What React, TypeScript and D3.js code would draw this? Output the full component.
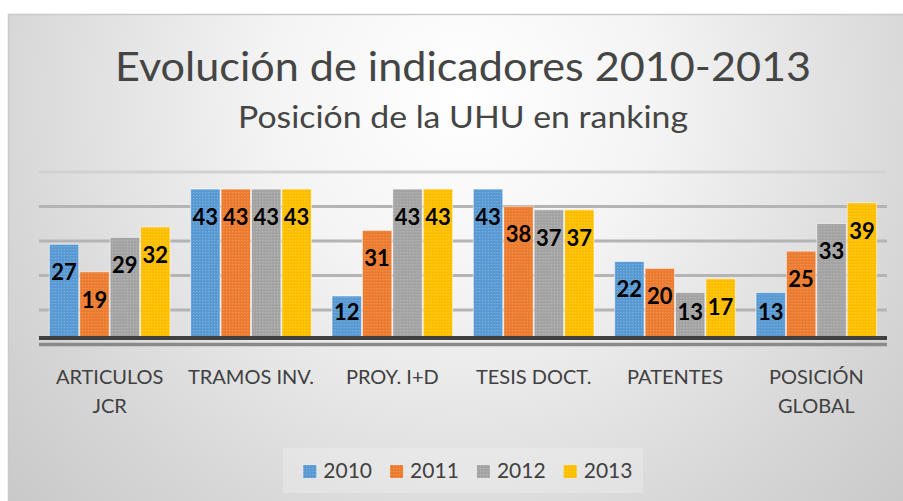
import React from "react";
import * as d3 from "d3";

const categories = ["ARTICULOS JCR", "TRAMOS INV.", "PROY. I+D", "TESIS DOCT.", "PATENTES", "POSICIÓN GLOBAL"];
const years = ["2010", "2011", "2012", "2013"];
const s2010 = [27, 43, 12, 43, 22, 13];
const s2011 = [19, 43, 31, 38, 20, 25];
const s2012 = [29, 43, 43, 37, 13, 33];
const s2013 = [32, 43, 43, 37, 17, 39];
const series = [s2010, s2011, s2012, s2013];
const gridTicks = [0, 10, 20, 30, 40, 50];
const colors = ["#5B9BD5", "#ED7D31", "#A5A5A5", "#FFC000"];
const title = "Evolución de indicadores 2010-2013";
const subtitle = "Posición de la UHU en ranking";

const W = 903;
const H = 501;
const plotLeft = 39;
const plotRight = 887;
const plotBottom = 337.4;
const plotTop = 164.9;
const gridOffset = 7.2;

function wrap(label: string): string[] {
  if (label.length <= 12) return [label];
  const i = label.lastIndexOf(" ");
  return [label.slice(0, i), label.slice(i + 1)];
}

export default function App() {
  const x = d3.scaleBand<string>().domain(categories).range([plotLeft, plotRight]).paddingInner(0.139).paddingOuter(0.0695);
  const xi = d3.scaleBand<string>().domain(years).range([0, x.bandwidth()]);
  const y = d3.scaleLinear().domain([0, 50]).range([plotBottom, plotTop]);
  const font = "Lato, 'Noto Sans', sans-serif";

  return (
    <svg width={W} height={H} style={{ position: "absolute", left: 0, top: 0 }}>
      <defs>
        <radialGradient id="bg" gradientUnits="userSpaceOnUse" cx={463} cy={95} r={640} fx={463} fy={95}>
          <stop offset="0" stopColor="#ffffff" />
          <stop offset="0.3" stopColor="#f4f4f4" />
          <stop offset="0.75" stopColor="#d5d5d5" />
          <stop offset="1" stopColor="#c6c6c6" />
        </radialGradient>
        <pattern id="tex" width={3} height={3} patternUnits="userSpaceOnUse">
          <rect x={0} y={0} width={1} height={1} fill="#ffffff" opacity={0.22} />
          <rect x={2} y={2} width={1} height={1} fill="#000000" opacity={0.05} />
        </pattern>
      </defs>
      <rect x={0} y={0} width={W} height={H} fill="#ffffff" />
      <rect x={8.5} y={14.5} width={915} height={495} fill="url(#bg)" stroke="#c9c9c9" strokeWidth={1.5} />

      <text x={463} y={80.7} textAnchor="middle" fontFamily={font} fontWeight={400} fontSize={40} fill="#454545" textLength={696} lengthAdjust="spacingAndGlyphs">
        {title}
      </text>
      <text x={463} y={128.3} textAnchor="middle" fontFamily={font} fontWeight={400} fontSize={31} fill="#454545" textLength={450} lengthAdjust="spacingAndGlyphs">
        {subtitle}
      </text>

      {gridTicks.map((t) => (
        <line
          key={t}
          x1={plotLeft}
          x2={plotRight}
          y1={y(t) + gridOffset}
          y2={y(t) + gridOffset}
          stroke={t === 0 ? "#8a8a8a" : t === 50 ? "#d2d2d2" : "#b4b4b4"}
          strokeWidth={t === 0 ? 3.5 : 3}
        />
      ))}

      {categories.map((c, ci) => (
        <g key={c} transform={`translate(${x(c)},0)`}>
          {series.map((s, si) => {
            const bx = xi(years[si]) as number;
            const by = y(s[ci]);
            const bw = xi.bandwidth();
            return (
              <g key={si}>
                <rect x={bx + 0.5} y={by} width={bw - 1} height={y(0) - by} fill={colors[si]} stroke="#ffffff" strokeOpacity={0.55} strokeWidth={1} />
                <rect x={bx + 0.5} y={by} width={bw - 1} height={y(0) - by} fill="url(#tex)" />
                <text
                  x={bx + bw / 2}
                  y={Math.min(by + 28, y(0) - 25)}
                  dy="0.36em"
                  textAnchor="middle"
                  fontFamily={font}
                  fontWeight={700}
                  fontSize={22}
                  fill="#000000"
                >
                  {s[ci]}
                </text>
              </g>
            );
          })}
        </g>
      ))}

      <line x1={plotLeft} x2={plotRight} y1={y(0) + 0.6} y2={y(0) + 0.6} stroke="#404040" strokeWidth={4} />

      {categories.map((c) => (
        <text key={c} textAnchor="middle" fontFamily={font} fontSize={20} fill="#404040">
          {wrap(c).map((line, li) => (
            <tspan key={li} x={(x(c) as number) + x.bandwidth() / 2} y={384 + li * 29}>
              {line}
            </tspan>
          ))}
        </text>
      ))}

      <rect x={283} y={448} width={360} height={45} fill="#ffffff" opacity={0.22} />
      {years.map((yr, i) => (
        <g key={yr} transform={`translate(${303.3 + i * 86.8},0)`}>
          <rect x={0} y={465} width={13} height={13} fill={colors[i]} />
          <rect x={0} y={465} width={13} height={13} fill="url(#tex)" />
          <text x={20} y={478.3} fontFamily={font} fontSize={21} fill="#404040">
            {yr}
          </text>
        </g>
      ))}
    </svg>
  );
}
